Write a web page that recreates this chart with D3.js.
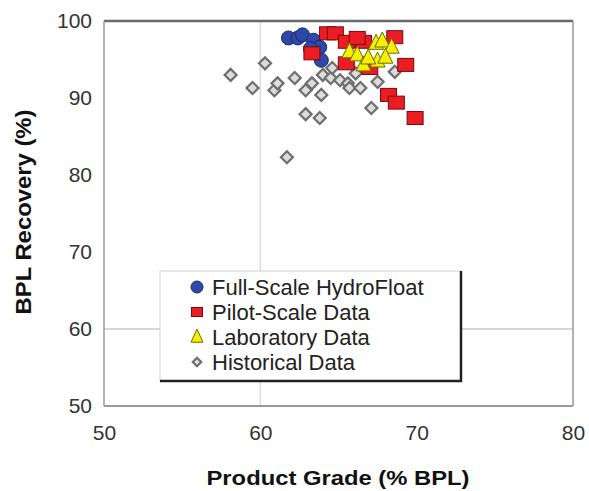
<!DOCTYPE html>
<html>
<head>
<meta charset="utf-8">
<script src="https://cdn.jsdelivr.net/npm/d3@7"></script>
<style>
  html, body { margin: 0; padding: 0; background: #fff; }
  svg { display: block; font-family: "Liberation Sans", Arial, sans-serif; }
</style>
</head>
<body>
<svg id="chart" width="589" height="491"></svg>
<script>
// ---- data (grade %BPL, recovery %) ----
const fullScaleGrade = [61.8, 62.4, 62.7, 63.4, 63.8, 63.9, 63.2];
const fullScaleRec   = [97.8, 97.8, 98.2, 97.5, 96.6, 94.9, 96.4];

const pilotGrade = [64.3, 64.8, 63.3, 65.5, 66.6, 68.6, 69.3, 65.5, 68.2, 68.7, 69.9, 67.0, 66.2];
const pilotRec   = [98.4, 98.4, 95.8, 97.3, 97.3, 97.9, 94.3, 94.5, 90.4, 89.4, 87.4, 93.9, 97.8];

const labGrade = [65.7, 66.2, 67.4, 67.8, 68.4, 66.6, 67.5, 68.0, 66.9];
const labRec   = [96.0, 95.6, 97.1, 97.4, 96.6, 94.3, 94.8, 95.3, 95.2];

const histGrade = [58.1, 59.5, 60.3, 60.9, 61.1, 61.7, 62.2, 62.9, 63.3, 62.9, 63.8, 63.9, 64.0, 64.5, 65.1, 65.6, 65.7, 66.4, 67.1, 67.5, 68.6, 64.6, 66.1];
const histRec   = [93.0, 91.3, 94.5, 91.0, 91.9, 82.3, 92.6, 91.0, 91.9, 87.9, 87.4, 90.4, 93.0, 92.6, 92.3, 91.9, 91.3, 91.3, 88.7, 92.1, 93.4, 93.9, 93.2];

const xTicks = [50, 60, 70, 80];
const yTicks = [50, 60, 70, 80, 90, 100];
const legendLabels = ["Full-Scale HydroFloat", "Pilot-Scale Data", "Laboratory Data", "Historical Data"];

// ---- chart ----
const svg = d3.select("#chart");
const x = d3.scaleLinear().domain([50, 80]).range([104, 573]);
const y = d3.scaleLinear().domain([50, 100]).range([406, 21]);

// gridlines at 60
svg.append("line").attr("x1", x(60)).attr("x2", x(60)).attr("y1", y(100)).attr("y2", y(50))
  .attr("stroke", "#dcdcdc").attr("stroke-width", 1.5);
svg.append("line").attr("x1", x(50)).attr("x2", x(80)).attr("y1", y(60)).attr("y2", y(60))
  .attr("stroke", "#d6d6d6").attr("stroke-width", 2);

// frame
svg.append("line").attr("x1", x(50)).attr("x2", x(80)).attr("y1", y(100)).attr("y2", y(100))
  .attr("stroke", "#6a6a6a").attr("stroke-width", 2.5);
svg.append("line").attr("x1", x(50)).attr("x2", x(50)).attr("y1", y(100)).attr("y2", y(50))
  .attr("stroke", "#999").attr("stroke-width", 1.5);
svg.append("line").attr("x1", x(50)).attr("x2", x(80)).attr("y1", y(50)).attr("y2", y(50))
  .attr("stroke", "#999").attr("stroke-width", 2);
svg.append("line").attr("x1", x(80)).attr("x2", x(80)).attr("y1", y(100)).attr("y2", y(50))
  .attr("stroke", "#999").attr("stroke-width", 1.5);

// axes (tick labels only)
const xAxis = d3.axisBottom(x).tickValues(xTicks).tickSize(0).tickPadding(0).tickFormat(d3.format("d"));
const gx = svg.append("g").attr("transform", `translate(0, 425)`).call(xAxis);
gx.select(".domain").remove();
gx.selectAll("text").attr("font-size", 21).attr("fill", "#333").attr("dy", "0.71em")
  .attr("font-family", "Liberation Sans, Arial, sans-serif");

const yAxis = d3.axisLeft(y).tickValues(yTicks).tickSize(0).tickPadding(0).tickFormat(d3.format("d"));
const gy = svg.append("g").attr("transform", `translate(92, 0)`).call(yAxis);
gy.select(".domain").remove();
gy.selectAll("text").attr("font-size", 21).attr("fill", "#333")
  .attr("font-family", "Liberation Sans, Arial, sans-serif");

// axis titles
svg.append("text").attr("x", 338).attr("y", 485).attr("text-anchor", "middle")
  .attr("font-size", 21).attr("font-weight", "bold").attr("fill", "#111")
  .attr("textLength", 263).attr("lengthAdjust", "spacingAndGlyphs")
  .text("Product Grade (% BPL)");
svg.append("text").attr("transform", "translate(31,212) rotate(-90)").attr("text-anchor", "middle")
  .attr("font-size", 22).attr("font-weight", "bold").attr("fill", "#111")
  .attr("textLength", 205).attr("lengthAdjust", "spacingAndGlyphs")
  .text("BPL Recovery (%)");

// marker drawers
function drawHist(g, cx, cy, s) {
  g.append("rect").attr("x", -s/2).attr("y", -s/2).attr("width", s).attr("height", s)
    .attr("transform", `translate(${cx},${cy}) rotate(45)`)
    .attr("fill", "#dcdcdc").attr("stroke", "#6e6e6e").attr("stroke-width", 2.2);
}
function drawCircle(g, cx, cy, r) {
  g.append("circle").attr("cx", cx).attr("cy", cy).attr("r", r)
    .attr("fill", "#2d48a8").attr("stroke", "#1a2a6e").attr("stroke-width", 1);
}
function drawSquare(g, cx, cy, w, h) {
  g.append("rect").attr("x", cx - w/2).attr("y", cy - h/2).attr("width", w).attr("height", h)
    .attr("fill", "#ec1c24").attr("stroke", "#7a0a0a").attr("stroke-width", 1);
}
function drawTri(g, cx, cy, w, h) {
  g.append("path").attr("d", `M${cx},${cy - h*0.6}L${cx + w/2},${cy + h*0.4}L${cx - w/2},${cy + h*0.4}Z`)
    .attr("fill", "#f4f000").attr("stroke", "#6e6a00").attr("stroke-width", 1);
}

const gp = svg.append("g");
histGrade.forEach((g, i) => drawHist(gp, x(g), y(histRec[i]), 8.5));
fullScaleGrade.forEach((g, i) => drawCircle(gp, x(g), y(fullScaleRec[i]), 7));
pilotGrade.forEach((g, i) => drawSquare(gp, x(g), y(pilotRec[i]), 16, 13));
labGrade.forEach((g, i) => drawTri(gp, x(g), y(labRec[i]), 15, 15));

// legend
const lg = svg.append("g");
lg.append("rect").attr("x", 160).attr("y", 271).attr("width", 301).attr("height", 110)
  .attr("fill", "#fff").attr("stroke", "#d0d0d0").attr("stroke-width", 1);
lg.append("path").attr("d", "M461,271V381H160").attr("fill", "none").attr("stroke", "#222").attr("stroke-width", 2.5);
const rowY = [287, 312, 337, 362];
drawCircle(lg, 197, rowY[0], 6);
drawSquare(lg, 197, rowY[1], 11, 9);
drawTri(lg, 197, rowY[2], 12, 13);
drawHist(lg, 197, rowY[3], 6);
legendLabels.forEach((t, i) => {
  lg.append("text").attr("x", 212).attr("y", rowY[i]).attr("dy", "0.36em")
    .attr("font-size", 22).attr("fill", "#222").text(t);
});
</script>
</body>
</html>
